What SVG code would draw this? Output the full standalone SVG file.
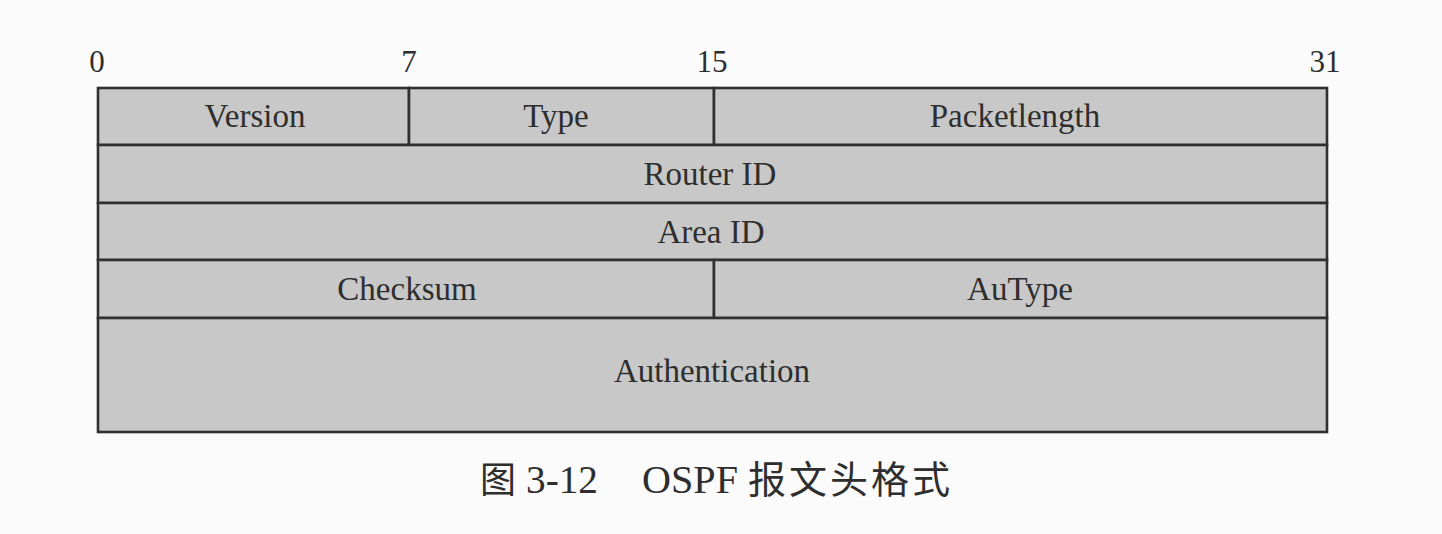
<svg xmlns="http://www.w3.org/2000/svg" width="1442" height="534" viewBox="0 0 1442 534">
<style>
.cell{fill:#c8c8c8;stroke:#303030;stroke-width:2.6}
.t{font-family:"Liberation Serif","Times New Roman",serif;font-size:33px;fill:#2e2e2e;text-anchor:middle}
.n{font-family:"Liberation Serif","Times New Roman",serif;font-size:31px;fill:#2e2e2e;text-anchor:middle}
.cap{font-family:"Liberation Serif","Noto Sans CJK SC",serif;font-size:39px;fill:#2e2e2e}
</style>
<rect width="1442" height="534" fill="#fbfbfb"/>
<g id="bit-labels">
<text class="n" x="97" y="72">0</text>
<text class="n" x="409" y="72">7</text>
<text class="n" x="712" y="72">15</text>
<text class="n" x="1325" y="72">31</text>
</g>
<g id="version"><rect class="cell" x="98" y="88" width="311" height="57"/><text class="t" x="255" y="127">Version</text></g>
<g id="type"><rect class="cell" x="409" y="88" width="305" height="57"/><text class="t" x="556" y="127">Type</text></g>
<g id="packetlength"><rect class="cell" x="714" y="88" width="613" height="57"/><text class="t" x="1015" y="127">Packetlength</text></g>
<g id="router-id"><rect class="cell" x="98" y="145" width="1229" height="58"/><text class="t" x="710" y="185">Router ID</text></g>
<g id="area-id"><rect class="cell" x="98" y="203" width="1229" height="57"/><text class="t" x="711" y="243">Area ID</text></g>
<g id="checksum"><rect class="cell" x="98" y="260" width="616" height="58"/><text class="t" x="407" y="300">Checksum</text></g>
<g id="autype"><rect class="cell" x="714" y="260" width="613" height="58"/><text class="t" x="1020" y="300">AuType</text></g>
<g id="authentication"><rect class="cell" x="98" y="318" width="1229" height="114"/><text class="t" x="712" y="382">Authentication</text></g>
<g id="connectors"></g>
<g id="caption"><text class="cap" y="493"><tspan x="480" font-size="36">图</tspan><tspan x="526" textLength="72" lengthAdjust="spacingAndGlyphs">3-12</tspan><tspan x="642" textLength="96" lengthAdjust="spacingAndGlyphs">OSPF</tspan><tspan x="748" font-size="38" textLength="202" lengthAdjust="spacing">报文头格式</tspan></text></g>
</svg>
